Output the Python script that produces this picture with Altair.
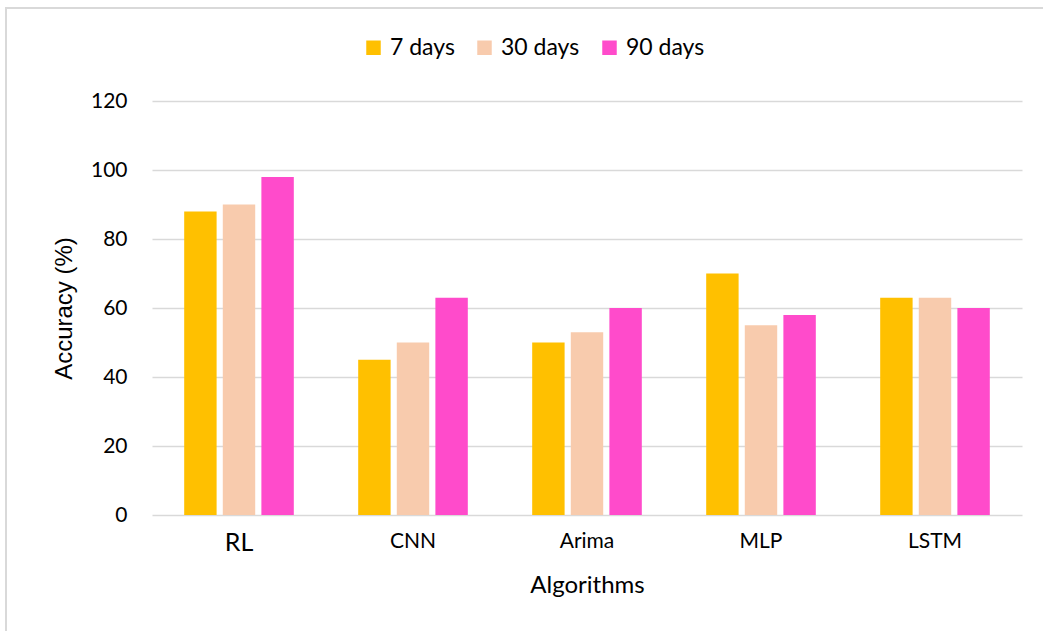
import altair as alt
import pandas as pd

algorithms = ["RL", "CNN", "Arima", "MLP", "LSTM"]
horizons = ["7 days", "30 days", "90 days"]
acc_7 = [88, 45, 50, 70, 63]
acc_30 = [90, 50, 53, 55, 63]
acc_90 = [98, 63, 60, 58, 60]
colors = ["#FFC000", "#F8CBAD", "#FF4BCB"]

rows = []
for i, alg in enumerate(algorithms):
    for h, vals in zip(horizons, [acc_7, acc_30, acc_90]):
        rows.append({"Algorithm": alg, "Horizon": h, "Accuracy": vals[i]})
df = pd.DataFrame(rows)

label_font = "Lato"

bars = alt.Chart(df).mark_bar().encode(
    x=alt.X(
        "Algorithm:N",
        sort=algorithms,
        scale=alt.Scale(paddingInner=0.37, paddingOuter=0.185),
        axis=alt.Axis(
            title="Algorithms",
            labelAngle=0,
            ticks=False,
            domain=False,
            labelPadding=15,
            labelFont=label_font,
            labelFontSize=alt.expr("datum.value == 'RL' ? 25 : 21"),
            labelColor="#000000",
            titleFont=label_font,
            titleFontSize=24,
            titleFontWeight="normal",
            titleColor="#000000",
            titlePadding=18,
        ),
    ),
    xOffset=alt.XOffset(
        "Horizon:N",
        sort=horizons,
        scale=alt.Scale(paddingInner=0.16, paddingOuter=0),
    ),
    y=alt.Y(
        "Accuracy:Q",
        scale=alt.Scale(domain=[0, 120], nice=False),
        axis=alt.Axis(
            title="Accuracy (%)",
            values=[0, 20, 40, 60, 80, 100, 120],
            ticks=False,
            domain=False,
            labelPadding=25,
            labelFont=label_font,
            labelFontSize=21,
            labelColor="#000000",
            gridColor="#d9d9d9",
            gridWidth=1.5,
            titleFont="Liberation Sans",
            titleFontSize=24,
            titleFontWeight="normal",
            titleColor="#000000",
            titlePadding=14,
        ),
    ),
    color=alt.Color(
        "Horizon:N",
        sort=horizons,
        scale=alt.Scale(domain=horizons, range=colors),
        legend=alt.Legend(
            title=None,
            orient="none",
            direction="horizontal",
            legendX=210,
            legendY=-65,
            symbolType="square",
            symbolSize=210,
            symbolStrokeWidth=0,
            labelFont=label_font,
            labelFontSize=23,
            labelColor="#000000",
            labelOffset=5,
            columnPadding=18,
        ),
    ),
)

frame = alt.Chart(alt.Data(values=[{}])).mark_rect(
    fill=None, stroke="#d9d9d9", strokeWidth=2
).encode(
    x=alt.value(-146), x2=alt.value(1000),
    y=alt.value(-93), y2=alt.value(700),
)

chart = alt.layer(frame, bars).properties(
    width=870,
    height=414,
    autosize=alt.AutoSizeParams(type="none"),
    padding={"left": 152, "top": 101, "right": 21, "bottom": 116},
    background="white",
).configure_view(stroke=None)

chart.save("out.html", embed_options={"renderer": "svg", "actions": False})
